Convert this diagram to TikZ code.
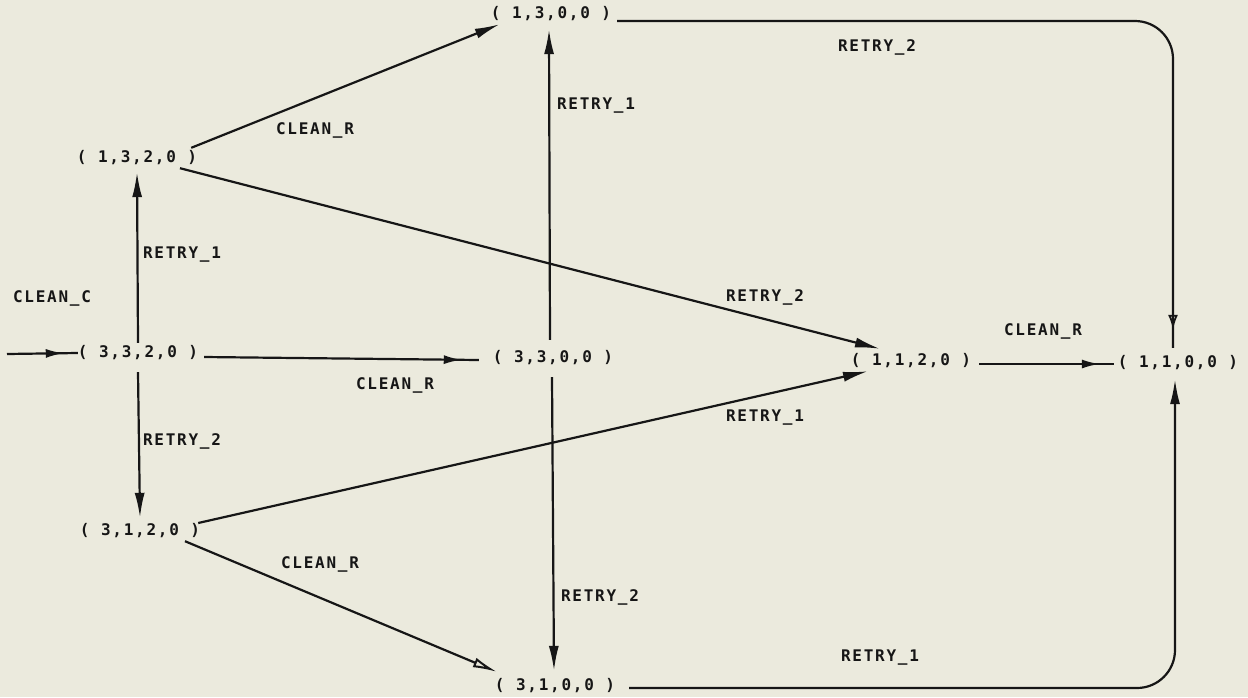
\documentclass[tikz,border=0pt]{standalone}
\usepackage{fontspec}
\newfontfamily\plotfont[LetterSpace=11]{DejaVu Sans Mono}
\usetikzlibrary{arrows.meta,decorations.markings}
\definecolor{paper}{RGB}{235,234,221}
\definecolor{ink}{RGB}{22,22,22}
\begin{document}
\begin{tikzpicture}[x=1pt,y=-1pt,
  state/.style={font=\plotfont\bfseries\fontsize{16}{16}\selectfont, text=ink, inner sep=2pt, minimum height=20pt},
  lbl/.style={font=\plotfont\bfseries\fontsize{16}{16}\selectfont, text=ink, inner sep=1pt},
  conn/.style={draw=ink, line width=2.2pt},
  endtip/.style={-{Latex[length=25pt,width=10pt]}},
  opentip/.style={-{Latex[open,length=24pt,width=10pt,line width=2pt]}},
  midtip/.style={decoration={markings,mark=at position -#1 with {\arrow{Latex[length=18pt,width=9pt]}}},postaction={decorate}},
  midopen/.style={decoration={markings,mark=at position -#1 with {\arrow{Latex[open,length=15pt,width=10pt,line width=1.8pt]}}},postaction={decorate}}
]
\fill[paper] (0,0) rectangle (1248,697);
\useasboundingbox (0,0) rectangle (1248,697);

% states
\node[state] (s1300) at (551,14) {( 1,3,0,0 )};
\node[state] (s1320) at (137,158) {( 1,3,2,0 )};
\node[state] (s3320) at (138,353) {( 3,3,2,0 )};
\node[state] (s3300) at (553,358) {( 3,3,0,0 )};
\node[state] (s1120) at (911,361) {( 1,1,2,0 )};
\node[state] (s1100) at (1178,363) {( 1,1,0,0 )};
\node[state] (s3120) at (140,531) {( 3,1,2,0 )};
\node[state] (s3100) at (555,686) {( 3,1,0,0 )};
\coordinate (in) at (7,354);

% labels
\node[lbl] (l1) at (315,130) {CLEAN\_R};
\node[lbl] (l2) at (596,106) {RETRY\_1};
\node[lbl] (l3) at (877,47) {RETRY\_2};
\node[lbl] (l4) at (182,255) {RETRY\_1};
\node[lbl] (l5) at (52,298) {CLEAN\_C};
\node[lbl] (l6) at (395,385) {CLEAN\_R};
\node[lbl] (l7) at (765,297) {RETRY\_2};
\node[lbl] (l8) at (765,418) {RETRY\_1};
\node[lbl] (l9) at (1043,331) {CLEAN\_R};
\node[lbl] (l10) at (182,441) {RETRY\_2};
\node[lbl] (l11) at (320,564) {CLEAN\_R};
\node[lbl] (l12) at (600,597) {RETRY\_2};
\node[lbl] (l13) at (880,658) {RETRY\_1};

% connectors
\draw[conn,endtip] ([xshift=-8pt]s1320.north east) -- ([xshift=11pt]s1300.south west);
\draw[conn,endtip] ([xshift=43pt]s1320.south) -- ([xshift=-31pt,yshift=2pt]s1120.north);
\draw[conn,endtip] (s3320.north) -- ([yshift=-4pt]s1320.south);
\draw[conn,midtip=17pt] ([xshift=4pt,yshift=-4pt]s3320.east) -- ([xshift=-12pt,yshift=-2pt]s3300.west);
\draw[conn,endtip] ([yshift=-9pt]s3320.south) -- ([yshift=3pt]s3120.north);
\draw[conn,midtip=14pt] (in) -- ([xshift=2pt]s3320.west);
\draw[conn,endtip] ([xshift=-3pt,yshift=8pt]s3300.north) -- ([xshift=-2pt,yshift=-5pt]s1300.south);
\draw[conn,endtip] ([xshift=-1pt,yshift=-9pt]s3300.south) -- ([xshift=-1pt,yshift=5pt]s3100.north);
\draw[conn,endtip] ([xshift=-4pt,yshift=8pt]s3120.east) -- ([xshift=-43pt]s1120.south);
\draw[conn,opentip] ([xshift=45pt]s3120.south) -- ([xshift=4pt,yshift=4pt]s3100.north west);
\draw[conn,midtip=14pt] ([xshift=6pt,yshift=-3pt]s1120.east) -- ([xshift=-2pt,yshift=-1pt]s1100.west);
\draw[conn,rounded corners=38pt,midopen=18pt] ([xshift=4pt,yshift=-7pt]s1300.east) -| ([xshift=-5pt,yshift=5pt]s1100.north);
\draw[conn,endtip,rounded corners=38pt] ([xshift=12pt,yshift=-2pt]s3100.east) -| ([xshift=-3pt,yshift=-6pt]s1100.south);
\end{tikzpicture}
\end{document}
